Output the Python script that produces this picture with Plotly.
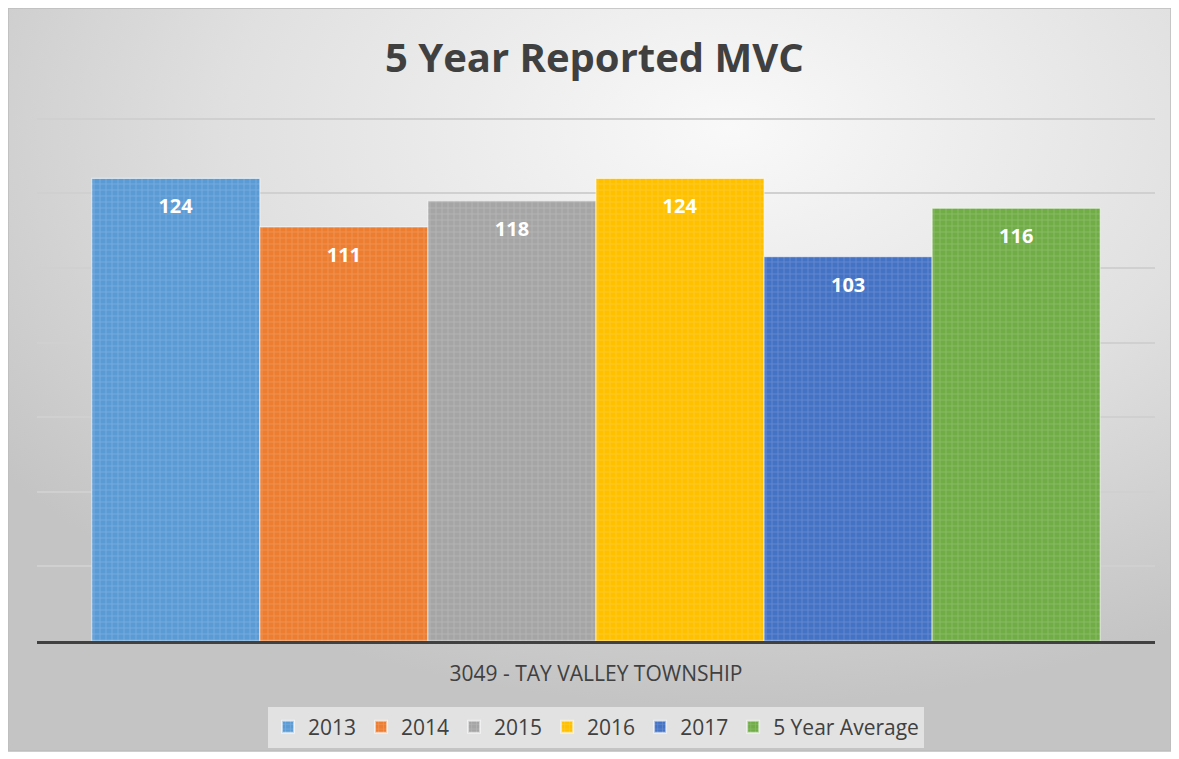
import base64
import plotly.graph_objects as go

# ---- data ----
category = ["3049 - TAY VALLEY TOWNSHIP"]
series_names = ["2013", "2014", "2015", "2016", "2017", "5 Year Average"]
values = [124, 111, 118, 124, 103, 116]
colors = ["#5B9BD5", "#ED7D31", "#A5A5A5", "#FFC000", "#4472C4", "#70AD47"]
y_ticks = [0, 20, 40, 60, 80, 100, 120, 140]
title_text = "5 Year Reported MVC"

# page has an 8px body margin, so the figure is drawn 8px smaller and offset
OFF = 8
W, H = 1179 - OFF, 759 - OFF
ML, MR, MT, MB = 37 - OFF, 24, 107, 118
PW = W - ML - MR
PH = H - MT - MB

FONT = "Open Sans"
TXT = "#404040"

fig = go.Figure()
for name, v, c in zip(series_names, values, colors):
    fig.add_trace(go.Bar(
        name=name, x=category, y=[v],
        marker=dict(color=c,
                    line=dict(color="rgba(255,255,255,0.55)", width=1.2),
                    pattern=dict(shape="+", size=6, solidity=0.25,
                                 fgcolor="rgba(255,255,255,1)", fgopacity=0.18)),
        text=[v], texttemplate="<span style='font-size:6px'> </span><br>%{y}",
        textposition="inside", insidetextanchor="end",
        textfont=dict(family=FONT, size=20, color="white", weight="bold"),
        hoverinfo="name+y",
    ))

# gradient background with border via inline SVG image
bx0, by0, bx1, by1 = 7 - OFF, 7 - OFF, 1172 - OFF, 752 - OFF
bw, bh = bx1 - bx0, by1 - by0
svg = f"""<svg xmlns='http://www.w3.org/2000/svg' width='{bw}' height='{bh}' viewBox='0 0 {bw} {bh}' preserveAspectRatio='none'>
<defs><radialGradient id='g' cx='0.62' cy='0.16' r='0.78' fx='0.62' fy='0.16'>
<stop offset='0' stop-color='#f9f9f9'/><stop offset='0.55' stop-color='#e0e0e0'/><stop offset='1' stop-color='#c4c4c4'/>
</radialGradient></defs>
<rect x='1' y='1' width='{bw-2}' height='{bh-2}' fill='url(#g)' stroke='#bdbdbd' stroke-width='1.5'/>
</svg>"""
src = "data:image/svg+xml;base64," + base64.b64encode(svg.encode()).decode()

fig.add_layout_image(dict(
    source=src, xref="paper", yref="paper",
    x=(bx0 - ML) / PW, y=(H - MB - by0) / PH,
    sizex=bw / PW, sizey=bh / PH,
    xanchor="left", yanchor="top", sizing="stretch", layer="below",
))

fig.update_layout(
    width=W, height=H,
    margin=dict(l=ML, r=MR, t=MT, b=MB, pad=0),
    paper_bgcolor="white", plot_bgcolor="rgba(0,0,0,0)",
    barmode="group", bargap=0.098, bargroupgap=0,
    title=dict(text=title_text, x=0.4985, xanchor="center", y=1 - (58 - OFF) / H, yanchor="middle",
               xref="paper", yref="container",
               font=dict(family=FONT, size=40, color=TXT, weight="bold")),
    showlegend=True,
    legend=dict(orientation="h", x=0.5, xanchor="center", y=(H - MB - (727 - OFF)) / PH, yanchor="middle",
                xref="paper", yref="paper",
                bgcolor="rgba(230,230,230,0.9)", borderwidth=0,
                font=dict(family=FONT, size=21, color=TXT),
                traceorder="normal", itemsizing="constant"),
    xaxis=dict(showline=True, linecolor=TXT, linewidth=3, ticks="", showgrid=False,
               tickfont=dict(family=FONT, size=21, color=TXT), ticklabelstandoff=12,
               fixedrange=True),
    yaxis=dict(range=[0, 141], tickvals=y_ticks, showticklabels=False, showgrid=True,
               gridcolor="#d0d0d0", gridwidth=2, zeroline=False, showline=False, fixedrange=True),
)

fig.write_html("out.html")
